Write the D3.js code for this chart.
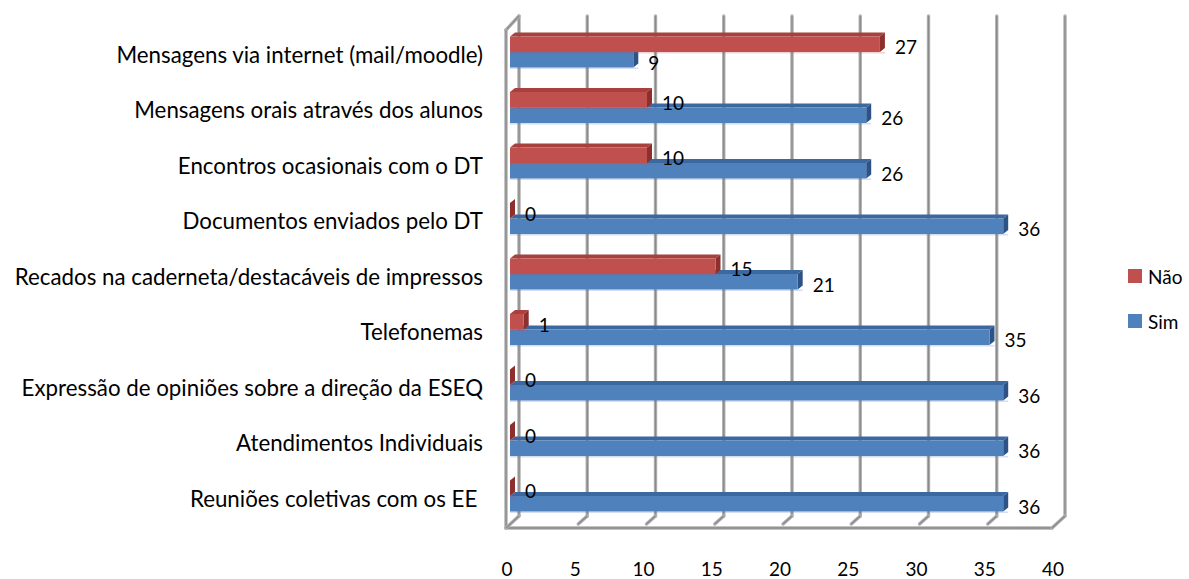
<!DOCTYPE html>
<html>
<head>
<meta charset="utf-8">
<script src="https://cdn.jsdelivr.net/npm/d3@7"></script>
<style>
  body { margin: 0; background: #fff; }
  text { font-family: Lato, "Open Sans", sans-serif; fill: #000; }
</style>
</head>
<body>
<script>
var categories = [
  'Mensagens via internet (mail/moodle)',
  'Mensagens orais através dos alunos',
  'Encontros ocasionais com o DT',
  'Documentos enviados pelo DT',
  'Recados na caderneta/destacáveis de impressos',
  'Telefonemas',
  'Expressão de opiniões sobre a direção da ESEQ',
  'Atendimentos Individuais',
  'Reuniões coletivas com os EE '
];
var nao = [27, 10, 10, 0, 15, 1, 0, 0, 0];
var sim = [9, 26, 26, 36, 21, 35, 36, 36, 36];
var ticks = [0, 5, 10, 15, 20, 25, 30, 35, 40];
var seriesNames = ['Não', 'Sim'];

var width = 1189, height = 579;

var svg = d3.select('body')
  .append('svg')
  .attr('width', width)
  .attr('height', height);

//back wall and front floor scales (3d offset)
var xBack = d3.scaleLinear().domain([0, 40]).range([519, 1065]);
var xFront = d3.scaleLinear().domain([0, 40]).range([506, 1052]);
var xBar = d3.scaleLinear().domain([0, 40]).range([510, 1058]);

var y = d3.scaleBand()
  .domain(categories)
  .range([24, 24 + 55.5 * categories.length]);

var wallTop = 16, floorBack = 516, floorFront = 528;
var depthX = 5, depthY = 4;

var colors = {
  red: { front: '#c0504d', top: '#a8403d', side: '#8c2f2d' },
  blue: { front: '#4f81bd', top: '#3c68a0', side: '#2d5386' }
};

var grid = svg.append('g');

function gridLine(x1, y1, x2, y2) {
  grid.append('line')
    .attr('x1', x1).attr('y1', y1).attr('x2', x2).attr('y2', y2)
    .attr('stroke', '#b0b0b0').attr('stroke-width', 3.4)
    .attr('stroke-linecap', 'round');
  grid.append('line')
    .attr('x1', x1).attr('y1', y1).attr('x2', x2).attr('y2', y2)
    .attr('stroke', '#8a8a8a').attr('stroke-width', 1.3);
}

//back wall gridlines + floor ticks
ticks.forEach(function(t) {
  gridLine(xBack(t), wallTop, xBack(t), floorBack);
  if (t > 0 && t < 40) {
    gridLine(xBack(t), floorBack, xBack(t) - 9, floorBack + 8);
  }
});

//left side wall
gridLine(xFront(0), wallTop + 14, xBack(0), wallTop);
gridLine(xFront(0), wallTop + 14, xFront(0), floorFront);
//floor edges
gridLine(xFront(0), floorFront, xFront(40), floorFront);
gridLine(xFront(40), floorFront, xBack(40), floorBack);
gridLine(xFront(0), floorFront, xBack(0), floorBack);

function bar(g, v, y0, h, c) {
  var x0 = xBar(0), x1 = xBar(v);
  g.append('rect')
    .attr('x', x0).attr('y', y0 + h).attr('width', x1 - x0 + depthX).attr('height', 1.5)
    .attr('fill', c.front).attr('opacity', 0.25);
  g.append('path')
    .attr('d', 'M' + x0 + ',' + y0 + 'L' + (x0 + depthX) + ',' + (y0 - depthY) +
      'L' + (x1 + depthX) + ',' + (y0 - depthY) + 'L' + x1 + ',' + y0 + 'Z')
    .attr('fill', c.top);
  g.append('path')
    .attr('d', 'M' + x1 + ',' + y0 + 'L' + (x1 + depthX) + ',' + (y0 - depthY) +
      'L' + (x1 + depthX) + ',' + (y0 + h - depthY) + 'L' + x1 + ',' + (y0 + h) + 'Z')
    .attr('fill', c.side);
  g.append('rect')
    .attr('x', x0).attr('y', y0)
    .attr('width', Math.max(0, x1 - x0)).attr('height', h)
    .attr('fill', c.front);
}

var bars = svg.append('g');
categories.forEach(function(cat, i) {
  var y0 = y(cat);
  var g = bars.append('g');
  bar(g, sim[i], y0 + 28, 15.5, colors.blue);
  bar(g, nao[i], y0 + 12.5, 15.5, colors.red);
});

//value labels
var labels = svg.append('g').attr('font-size', 19);
categories.forEach(function(cat, i) {
  var y0 = y(cat);
  labels.append('text')
    .attr('x', xBar(nao[i]) + depthX + 10)
    .attr('y', y0 + 20.25 + 2.5)
    .attr('dominant-baseline', 'central')
    .text(nao[i]);
  labels.append('text')
    .attr('x', xBar(sim[i]) + depthX + 10)
    .attr('y', y0 + 35.75 + 2.5)
    .attr('dominant-baseline', 'central')
    .text(sim[i]);
});

//category labels
svg.append('g')
  .selectAll('text')
  .data(categories)
  .enter()
  .append('text')
  .attr('x', 483)
  .attr('y', function(d) { return y(d) + 30; })
  .attr('text-anchor', 'end')
  .attr('dominant-baseline', 'central')
  .attr('font-size', 22.3)
  .style('white-space', 'pre')
  .text(function(d) { return d; });

//value axis labels
svg.append('g')
  .selectAll('text')
  .data(ticks)
  .enter()
  .append('text')
  .attr('x', function(d) { return xFront(d) + 1; })
  .attr('y', 568)
  .attr('text-anchor', 'middle')
  .attr('dominant-baseline', 'central')
  .attr('font-size', 19)
  .text(function(d) { return d; });

//legend
var legend = svg.append('g')
  .selectAll('g')
  .data(seriesNames)
  .enter()
  .append('g')
  .attr('transform', function(d, i) { return 'translate(1128,' + (269 + i * 45) + ')'; });

legend.append('rect')
  .attr('width', 14).attr('height', 14)
  .attr('fill', function(d, i) { return i === 0 ? colors.red.front : colors.blue.front; });

legend.append('text')
  .attr('x', 20).attr('y', 7.5)
  .attr('dominant-baseline', 'central')
  .attr('font-size', 19)
  .text(function(d) { return d; });
</script>
</body>
</html>
